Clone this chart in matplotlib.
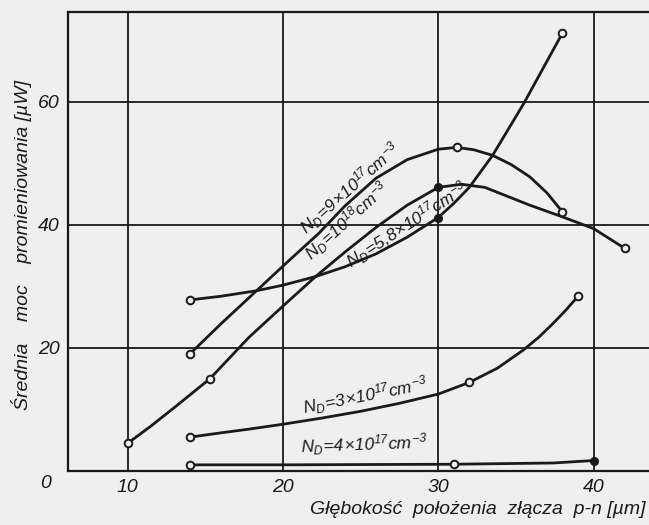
import matplotlib
matplotlib.use("Agg")
import matplotlib.pyplot as plt
from matplotlib import font_manager

# ---------------- data ----------------
x_9e17 = [14, 16, 18.3, 20.3, 22.3, 24, 26, 28, 30, 31.2, 32.3, 33.5, 34.7, 35.9, 37, 38]
y_9e17 = [19, 23.9, 29.3, 34, 38.6, 43.1, 47.6, 50.6, 52.3, 52.6, 52.2, 51.3, 49.8, 47.8, 45.2, 42.1]

x_1e18 = [10, 11.5, 13, 15.3, 17.8, 20, 22.1, 24, 26, 28, 30, 31.5, 33, 35.9, 38, 40, 42]
y_1e18 = [4.5, 7.3, 10.3, 15, 21.7, 26.8, 31.6, 35.6, 39.6, 43.2, 46.1, 46.6, 46.1, 43.2, 41.3, 39.4, 36.2]

x_58e17 = [14, 16, 18.3, 20, 22.1, 24, 26, 28, 30, 31, 32, 33.5, 35.5, 38]
y_58e17 = [27.8, 28.4, 29.3, 30.2, 31.6, 33.2, 35.3, 38.0, 41.2, 43.5, 46.1, 51.3, 59.7, 71.2]

x_3e17 = [14, 16, 17.8, 20, 22.5, 25, 27.5, 30, 32, 33.8, 35.5, 36.5, 37.4, 38.2, 39]
y_3e17 = [5.5, 6.2, 6.8, 7.6, 8.6, 9.7, 11.0, 12.5, 14.4, 16.7, 19.7, 21.8, 24.0, 26.1, 28.4]

x_4e17 = [14, 20, 31, 37.4, 40]
y_4e17 = [1.0, 1.0, 1.1, 1.3, 1.7]

# measured points (indices into the series above)
open_9e17, filled_9e17 = [0, 9, 15], []
open_1e18, filled_1e18 = [0, 3, 16], [10]
open_58e17, filled_58e17 = [0, 13], [8]
open_3e17, filled_3e17 = [0, 8, 14], []
open_4e17, filled_4e17 = [0, 2], [4]

x_ticks = [10, 20, 30, 40]
y_ticks = [20, 40, 60]

curve_labels = [
    r"$N_D\!=\!9\!\times\!10^{17}cm^{-3}$",
    r"$N_D\!=\!10^{18}cm^{-3}$",
    r"$N_D\!=\!5{,}8\!\times\!10^{17}cm^{-3}$",
    r"$N_D\!=\!3\!\times\!10^{17}cm^{-3}$",
    r"$N_D\!=\!4\!\times\!10^{17}cm^{-3}$",
]
x_title = "Głębokość  położenia  złącza  p-n [µm]"
y_title = "Średnia    moc    promieniowania [µW]"

# ---------------- style ----------------
names = {f.name for f in font_manager.fontManager.ttflist}
fam = "Liberation Sans" if "Liberation Sans" in names else "DejaVu Sans"
plt.rcParams["font.family"] = [fam, "DejaVu Sans"]
plt.rcParams["mathtext.fontset"] = "custom"
plt.rcParams["mathtext.it"] = f"{fam}:italic"
plt.rcParams["mathtext.rm"] = f"{fam}:italic"
plt.rcParams["mathtext.sf"] = f"{fam}:italic"
plt.rcParams["mathtext.default"] = "it"

BG = "#efefef"
INK = "#1a1a1a"

fig = plt.figure(figsize=(6.49, 5.25), dpi=100, facecolor=BG)
ax = fig.add_axes([68 / 649, 54 / 525, 1 - 68 / 649, (471 - 12) / 525])
ax.set_facecolor(BG)
ax.set_xlim(6.16, 43.57)
ax.set_ylim(0, 74.6)

for s in ["left", "top", "bottom"]:
    ax.spines[s].set_linewidth(1.6)
    ax.spines[s].set_color(INK)
ax.spines["right"].set_visible(False)

ax.set_xticks(x_ticks)
ax.set_yticks(y_ticks)
ax.grid(True, color=INK, linewidth=1.3)
ax.set_axisbelow(True)
ax.tick_params(length=0, labelsize=14, colors=INK, pad=6)
for lab in ax.get_xticklabels() + ax.get_yticklabels():
    lab.set_style("italic")

ax.text(-0.03, -0.027, "0", transform=ax.transAxes, fontsize=14,
        style="italic", color=INK, ha="right", va="center")

series = [
    (x_9e17, y_9e17, open_9e17, filled_9e17),
    (x_1e18, y_1e18, open_1e18, filled_1e18),
    (x_58e17, y_58e17, open_58e17, filled_58e17),
    (x_3e17, y_3e17, open_3e17, filled_3e17),
    (x_4e17, y_4e17, open_4e17, filled_4e17),
]
for xs, ys, oi, fi in series:
    ax.plot(xs, ys, color=INK, linewidth=2.0, solid_capstyle="round",
            solid_joinstyle="round", zorder=3)
    if oi:
        ax.plot([xs[i] for i in oi], [ys[i] for i in oi], "o", ms=5.5,
                mfc=BG, mec=INK, mew=1.4, zorder=4, clip_on=False)
    if fi:
        ax.plot([xs[i] for i in fi], [ys[i] for i in fi], "o", ms=5.5,
                mfc=INK, mec=INK, zorder=4, clip_on=False)

label_pos = [(24.3, 45.9, 41.5), (24.1, 40.6, 42), (28.0, 40.0, 33),
             (25.3, 12.2, 11), (25.2, 4.3, 2)]
for txt, (lx, ly, rot) in zip(curve_labels, label_pos):
    ax.text(lx, ly, txt, fontsize=12.5, color=INK, rotation=rot,
            rotation_mode="anchor", ha="center", va="center", zorder=5)

fig.text(645 / 649, 1 - 510 / 525, x_title, fontsize=14, style="italic",
         color=INK, ha="right", va="center")
fig.text(22 / 649, 1 - 245 / 525, y_title, fontsize=14, style="italic",
         color=INK, ha="center", va="center", rotation=90)

fig.savefig("out.png", dpi=100, facecolor=BG)
